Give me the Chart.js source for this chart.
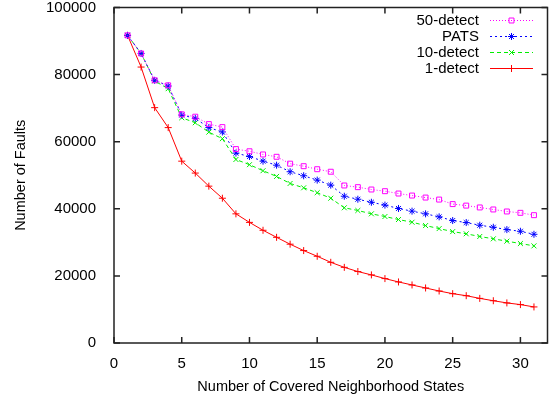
<html>
<head>
<script src="https://cdn.jsdelivr.net/npm/chart.js@4.4.1/dist/chart.umd.min.js"></script>
<style>
  body { margin: 0; background: #fff; }
  #wrap { width: 552px; height: 396px; }
</style>
</head>
<body>
<div id="wrap"><canvas id="faults"></canvas></div>
<script>
const states = [1,2,3,4,5,6,7,8,9,10,11,12,13,14,15,16,17,18,19,20,21,22,23,24,25,26,27,28,29,30,31]
const detect50 = [91700,86300,78300,76800,68150,67450,65250,64350,57800,57150,56200,55500,53450,52700,51800,51050,46950,46450,45750,45250,44550,43950,43350,42750,41400,40950,40400,39800,39200,38800,38100]
const pats = [91700,86300,78300,76600,67950,66950,64200,62900,56600,55600,54200,53000,51050,49850,48550,47050,43750,42850,41950,41100,40100,39300,38500,37600,36500,35900,35100,34500,33800,33300,32400]
const detect10 = [91700,86300,78100,75800,67150,65650,62850,60900,54700,53150,51350,49650,47550,46250,44800,43150,40300,39500,38500,37700,36800,36000,35000,34100,33200,32550,31750,31050,30350,29650,28950]
const detect1 = [91700,82250,70150,64200,54200,50650,46750,43150,38500,35950,33600,31500,29450,27550,25850,24050,22550,21300,20300,19200,18200,17300,16400,15500,14700,14100,13300,12600,11950,11450,10750]
const xTicks = [0,5,10,15,20,25,30]
const yTicks = [0,20000,40000,60000,80000,100000]

const font = { family: 'Liberation Sans, Arial, sans-serif', size: 15 }
const titleFont = { family: 'Liberation Sans, Arial, sans-serif', size: 14.5 }

function series(label, values, color, dash, style) {
    return {
        label: label,
        data: states.map((x, i) => ({ x: x, y: values[i] })),
        borderColor: color,
        backgroundColor: 'rgba(0,0,0,0)',
        borderWidth: 1,
        borderDash: dash,
        pointStyle: style,
        pointRadius: 3.5,
        pointBorderWidth: 1,
        pointBorderColor: color,
        pointBackgroundColor: 'rgba(0,0,0,0)',
        pointHoverRadius: 3.5,
        tension: 0
    }
}

const datasets = [
    series('50-detect', detect50, '#ff00ff', [1, 2], 'rect'),
    series('PATS', pats, '#0000ff', [2, 3], 'star'),
    series('10-detect', detect10, '#00ee00', [4, 3], 'crossRot'),
    series('1-detect', detect1, '#ff0000', [], 'cross')
]

// gnuplot style frame with inward ticks on all four sides
const framePlugin = {
    id: 'frame',
    afterDatasetsDraw(chart) {
        const c = chart.ctx, a = chart.chartArea
        const xs = chart.scales.x, ys = chart.scales.y
        c.save()
        c.strokeStyle = '#222'
        c.lineWidth = 1.5
        c.setLineDash([])
        c.strokeRect(a.left, a.top, a.right - a.left, a.bottom - a.top)
        c.beginPath()
        xTicks.forEach(v => {
            const px = xs.getPixelForValue(v)
            c.moveTo(px, a.bottom); c.lineTo(px, a.bottom - 6)
            c.moveTo(px, a.top); c.lineTo(px, a.top + 6)
        })
        yTicks.forEach(v => {
            const py = ys.getPixelForValue(v)
            c.moveTo(a.left, py); c.lineTo(a.left + 6, py)
            c.moveTo(a.right, py); c.lineTo(a.right - 6, py)
        })
        c.stroke()

        // key in the top right corner
        c.font = font.size + 'px ' + font.family
        c.textAlign = 'right'
        c.textBaseline = 'middle'
        datasets.forEach((d, i) => {
            const y = 20.5 + i * 16
            c.fillStyle = '#000'
            c.fillText(d.label, 479, y)
            c.strokeStyle = d.borderColor
            c.lineWidth = 1
            c.setLineDash(d.borderDash)
            c.beginPath(); c.moveTo(490, y); c.lineTo(533, y); c.stroke()
            c.setLineDash([])
            c.fillStyle = 'rgba(0,0,0,0)'
            Chart.helpers.drawPoint(c, { pointStyle: d.pointStyle, radius: 3.5, borderWidth: 1 }, 511.5, y)
        })
        c.restore()
    }
}

new Chart(document.getElementById('faults'), {
    type: 'line',
    data: { datasets: datasets },
    plugins: [framePlugin],
    options: {
        responsive: true,
        maintainAspectRatio: false,
        animation: false,
        events: [],
        layout: { padding: { top: 0, right: 0, left: 0, bottom: 0 } },
        plugins: { legend: { display: false }, tooltip: { enabled: false } },
        scales: {
            x: {
                type: 'linear',
                min: 0,
                max: 32,
                grid: { display: false },
                border: { display: false },
                ticks: { stepSize: 5, includeBounds: false, padding: 4, color: '#000', font: font, maxRotation: 0 },
                title: { display: true, text: 'Number of Covered Neighborhood States', color: '#000', font: titleFont, padding: { top: 4, bottom: 0 } },
                afterFit: s => { s.height = 53 }
            },
            y: {
                min: 0,
                max: 100000,
                grid: { display: false },
                border: { display: false },
                ticks: { stepSize: 20000, padding: 10, color: '#000', font: font, callback: v => String(v) },
                title: { display: true, text: 'Number of Faults', color: '#000', font: titleFont, padding: { top: 12, bottom: 0 } },
                afterFit: s => { s.width = 114; s.paddingTop = 7.5 }
            }
        }
    }
})
</script>
</body>
</html>
